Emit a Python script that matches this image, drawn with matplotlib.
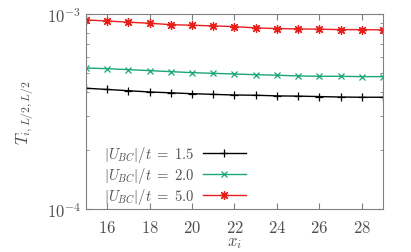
import matplotlib
matplotlib.use("Agg")
import matplotlib.pyplot as plt
from matplotlib.ticker import FixedLocator, LogLocator, NullFormatter

plt.rcParams["mathtext.fontset"] = "cm"
plt.rcParams["font.family"] = "serif"
plt.rcParams["font.serif"] = ["cmr10", "DejaVu Serif"]
plt.rcParams["axes.formatter.use_mathtext"] = True

x = list(range(15, 30))
t_15 = [4.16e-4, 4.10e-4, 4.04e-4, 3.98e-4, 3.94e-4, 3.90e-4, 3.87e-4, 3.84e-4,
        3.83e-4, 3.80e-4, 3.79e-4, 3.77e-4, 3.75e-4, 3.74e-4, 3.74e-4]
t_20 = [5.28e-4, 5.24e-4, 5.18e-4, 5.12e-4, 5.06e-4, 5.00e-4, 4.96e-4, 4.92e-4,
        4.88e-4, 4.85e-4, 4.81e-4, 4.79e-4, 4.79e-4, 4.77e-4, 4.77e-4]
t_50 = [9.31e-4, 9.20e-4, 9.07e-4, 8.96e-4, 8.81e-4, 8.75e-4, 8.68e-4, 8.61e-4,
        8.48e-4, 8.41e-4, 8.38e-4, 8.35e-4, 8.31e-4, 8.31e-4, 8.28e-4]
labels = [r"$|U_{BC}|/t\;=\;1.5$", r"$|U_{BC}|/t\;=\;2.0$", r"$|U_{BC}|/t\;=\;5.0$"]
xticks = [16, 18, 20, 22, 24, 26, 28]

gray = "#505050"
fig = plt.figure(figsize=(4.11, 2.53), dpi=100)
ax = fig.add_axes([0.209, 0.170, 0.723, 0.771])

ax.plot(x, t_15, color="black", marker="+", ms=6, mew=0.9, lw=1.0, label=labels[0])
ax.plot(x, t_20, color="#1aa57a", marker="x", ms=5, mew=0.9, lw=1.0, label=labels[1])
ax.plot(x, t_50, color="#e8201c", marker=(8, 2, 0), ms=6.5, mew=0.9, lw=1.0, label=labels[2])

ax.set_yscale("log")
ax.set_xlim(15, 29)
ax.set_ylim(1e-4, 1e-3)
ax.xaxis.set_major_locator(FixedLocator(xticks))
ax.set_xticklabels([f"${v}$" for v in xticks])
ax.yaxis.set_major_locator(LogLocator(base=10))
ax.yaxis.set_minor_locator(LogLocator(base=10, subs=range(2, 10)))
ax.yaxis.set_minor_formatter(NullFormatter())
ax.tick_params(which="both", direction="in", top=True, right=True, colors="#808080",
               labelcolor=gray, labelsize=12)
ax.tick_params(which="major", length=4)
ax.tick_params(which="minor", length=2.5)
ax.tick_params(axis="x", pad=7)
for s in ax.spines.values():
    s.set_color("#808080")

ax.set_xlabel(r"$x_i$", fontsize=12, color=gray, labelpad=0)
ax.set_ylabel(r"$T_{i,L/2,L/2}$", fontsize=12, color=gray, labelpad=8)

leg = ax.legend(loc="lower left", markerfirst=False, frameon=False, fontsize=10.5,
                handlelength=3.0, handletextpad=0.6, labelspacing=0.08,
                borderaxespad=0.0, bbox_to_anchor=(0.04, -0.015))
for t in leg.get_texts():
    t.set_color(gray)

fig.savefig("out.png", dpi=100)
